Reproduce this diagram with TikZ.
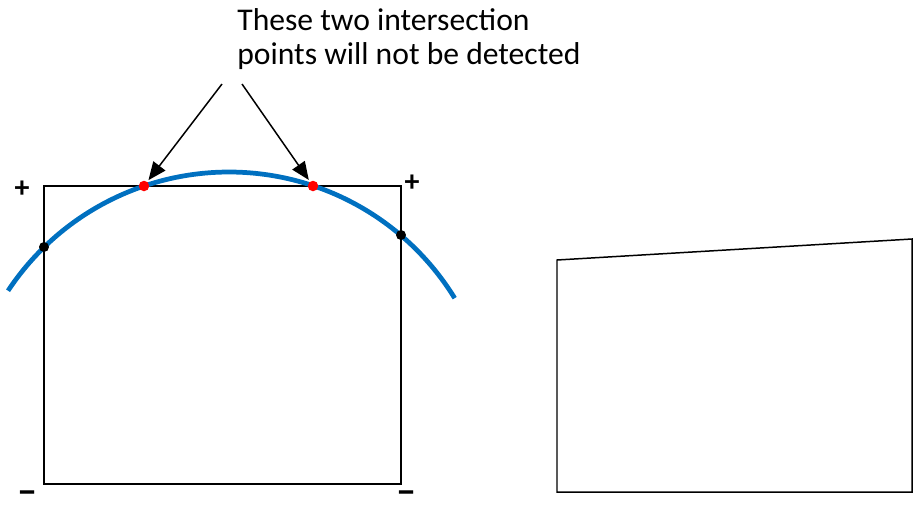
\documentclass[tikz,border=0pt]{standalone}
\usepackage{fontspec}
\setmainfont{Carlito}
\usetikzlibrary{arrows.meta}
\definecolor{curveblue}{RGB}{0,112,192}
\tikzset{
  frame/.style={line width=0.85pt, line join=miter},
  curve/.style={curveblue, line width=2.7pt},
  dot-red/.style={circle, fill=red, minimum size=0.21cm, inner sep=0pt},
  dot-black/.style={circle, fill=black, minimum size=0.2cm, inner sep=0pt},
  pointer/.style={line width=0.85pt, -{Triangle[length=0.36cm,width=0.3cm]}, shorten >=1pt},
  sign/.style={font=\fontsize{17}{17}\bfseries\selectfont, inner sep=1pt}
}

\begin{document}
\begin{tikzpicture}[x=0.02cm, y=-0.02cm]
  \useasboundingbox (0,0) rectangle (914,512);
  % left box with the curve
  \draw[frame] (44,186) rectangle (401,484);
  \draw[curve] ([shift={(213.5:265)}]229,437) arc[start angle=213.5, end angle=328.4, radius=265];
  \node[dot-black] (xa) at (44,247) {};
  \node[dot-red]   (xb) at (144,186) {};
  \node[dot-red]   (xc) at (313,186) {};
  \node[dot-black] (xd) at (401,235) {};
  % corner signs
  \node[sign] (pl) at (22,189) {+};
  \node[sign] (pr) at (412,183) {+};
  \node[sign, xscale=1.35, yscale=1.3] (ml) at (28,497) {–};
  \node[sign, xscale=1.35, yscale=1.3] (mr) at (407,497) {–};
  % note and arrows
  \node[anchor=north west, align=left, inner sep=0pt, font=\fontsize{18}{19.5}\selectfont]
    (note) at (237,8) {These two intersection\\points will not be detected};
  \coordinate (ta) at (222,84);
  \coordinate (tb) at (242,84);
  \draw[pointer] (ta) -- (xb);
  \draw[pointer] (tb) -- (xc);
  % right quadrilateral
  \draw[frame] (557,260) -- (912,239) -- (912,492) -- (557,492) -- cycle;
\end{tikzpicture}
\end{document}
